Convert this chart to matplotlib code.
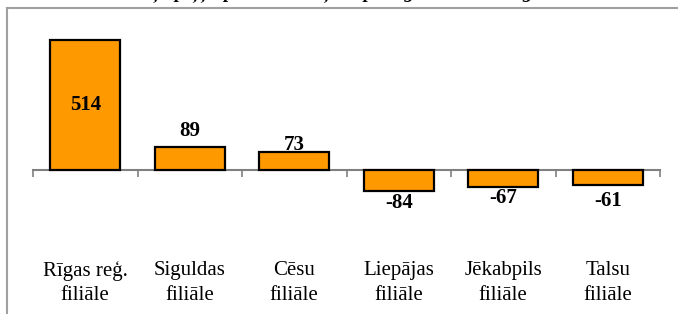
import matplotlib
matplotlib.use("Agg")
import matplotlib.pyplot as plt
from matplotlib.lines import Line2D

branches = ["Rīgas reģ.\nfiliāle", "Siguldas\nfiliāle", "Cēsu\nfiliāle",
            "Liepājas\nfiliāle", "Jēkabpils\nfiliāle", "Talsu\nfiliāle"]
profit = [514, 89, 73, -84, -67, -61]

# label offsets in points (Excel put them a bit unevenly)
label_off = [None, 11.5, 4.7, -8.3, -8, -11]

plt.rcParams['font.family'] = ['Liberation Serif', 'DejaVu Serif']

fig = plt.figure(figsize=(6.78, 3.14), dpi=100, facecolor="white")
ax = fig.add_axes([33/678, 0, 627/678, 306/314])
ax.set_facecolor("none")

x = range(len(profit))
ax.bar(x, profit, width=0.67, color="#FF9900", edgecolor="black",
       linewidth=1.6, zorder=3)

ax.set_xlim(-0.5, len(profit) - 0.5)
ax.set_ylim(-569, 640)

for s in ["top", "left", "right"]:
    ax.spines[s].set_visible(False)
ax.spines["bottom"].set_position(("data", 0))
ax.spines["bottom"].set_color("#808080")
ax.spines["bottom"].set_linewidth(1.5)
ax.set_yticks([])
ax.set_xticks([i - 0.5 for i in range(len(profit) + 1)])
ax.set_xticklabels([])
ax.tick_params(axis="x", direction="out", length=5, width=1.2, color="#808080")

for i, v in enumerate(profit):
    if label_off[i] is None:
        ax.text(i, v / 2, str(v), ha="center", va="center",
                fontsize=15, fontweight="bold", zorder=4)
    else:
        ax.annotate(str(v), (i, v), textcoords="offset points",
                    xytext=(0, label_off[i]), ha="center", va="center",
                    fontsize=15, fontweight="bold", zorder=4)

for i, name in enumerate(branches):
    ax.text(i, 0.101, name, transform=ax.get_xaxis_transform(),
            ha="center", va="center", fontsize=15, linespacing=1.38)

# cut-off title at the top of the picture, only descenders show
fig.text(0.5, 1 + 2/314, "Filiāļu peļņa pirms nodokļiem pa reģioniem 2009. gadā",
         ha="center", va="baseline", fontsize=14, fontstyle="italic",
         fontweight="bold")

# grey frame of the chart area
fig.add_artist(Line2D([7/678, 1], [1 - 8/314, 1 - 8/314],
                      transform=fig.transFigure, color="#a0a0a0", lw=1.5))
fig.add_artist(Line2D([7/678, 7/678], [0, 1 - 8/314],
                      transform=fig.transFigure, color="#a0a0a0", lw=1.5))

fig.savefig("out.png", dpi=100, facecolor="white")
